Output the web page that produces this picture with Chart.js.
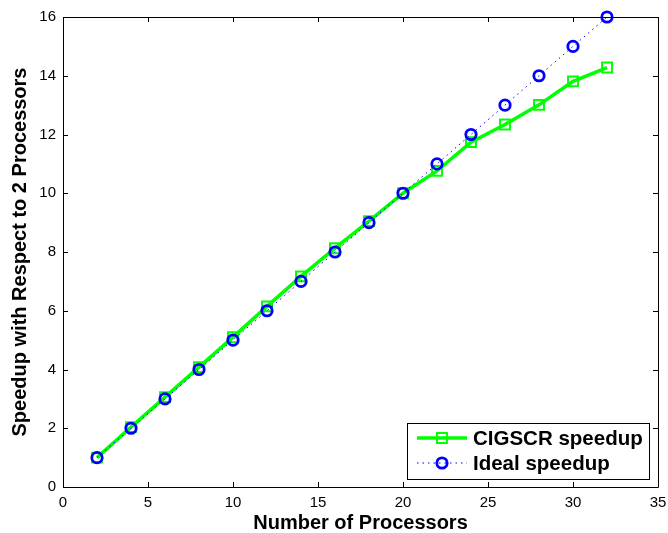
<!DOCTYPE html>
<html>
<head>
<meta charset="utf-8">
<script src="https://cdn.jsdelivr.net/npm/chart.js@4"></script>
<style>
  html, body { margin: 0; padding: 0; background: #fff; }
  #wrap { width: 668px; height: 533px; }
</style>
</head>
<body>
<div id="wrap"><canvas id="c" width="668" height="533"></canvas></div>
<script>
const processors = [2, 4, 6, 8, 10, 12, 14, 16, 18, 20, 22, 24, 26, 28, 30, 32];
const cigscrSpeedup = [1.0, 2.04, 3.06, 4.08, 5.1, 6.15, 7.17, 8.13, 9.05, 10.0, 10.76, 11.74, 12.34, 13.01, 13.81, 14.28];
const idealSpeedup = [1, 2, 3, 4, 5, 6, 7, 8, 9, 10, 11, 12, 13, 14, 15, 16];
const xTicks = [0, 5, 10, 15, 20, 25, 30, 35];
const yTicks = [0, 2, 4, 6, 8, 10, 12, 14, 16];
const seriesNames = ['CIGSCR speedup', 'Ideal speedup'];

const FONT = '"Liberation Sans", Arial, Helvetica, sans-serif';

const toXY = (ys) => processors.map((x, i) => ({ x: x, y: ys[i] }));

const frame = {
  id: 'frame',
  afterDraw(chart) {
    const { ctx, chartArea: a, scales } = chart;
    ctx.save();
    ctx.strokeStyle = '#000';
    ctx.lineWidth = 1;
    ctx.beginPath();
    ctx.rect(Math.round(a.left) + 0.5, Math.round(a.top) + 0.5, Math.round(a.right - a.left), Math.round(a.bottom - a.top));
    ctx.stroke();
    const tl = 5;
    ctx.beginPath();
    xTicks.forEach(v => {
      const px = Math.round(scales.x.getPixelForValue(v)) + 0.5;
      ctx.moveTo(px, a.bottom); ctx.lineTo(px, a.bottom - tl);
      ctx.moveTo(px, a.top); ctx.lineTo(px, a.top + tl);
    });
    yTicks.forEach(v => {
      const py = Math.round(scales.y.getPixelForValue(v)) + 0.5;
      ctx.moveTo(a.left, py); ctx.lineTo(a.left + tl, py);
      ctx.moveTo(a.right, py); ctx.lineTo(a.right - tl, py);
    });
    ctx.stroke();

    // legend
    const lx = 407, ly = 423, lw = 242, lh = 56;
    ctx.fillStyle = '#fff';
    ctx.fillRect(lx, ly, lw, lh);
    ctx.strokeStyle = '#000';
    ctx.lineWidth = 1;
    ctx.strokeRect(lx + 0.5, ly + 0.5, lw, lh);
    const rows = [438, 463];
    const ds = chart.data.datasets;
    ds.forEach((d, i) => {
      const y = rows[i];
      ctx.save();
      ctx.strokeStyle = d.borderColor;
      ctx.lineWidth = d.borderWidth;
      ctx.setLineDash(d.borderDash || []);
      ctx.beginPath();
      ctx.moveTo(417, y); ctx.lineTo(467, y);
      ctx.stroke();
      ctx.restore();
      ctx.save();
      ctx.strokeStyle = d.borderColor;
      ctx.lineWidth = d.pointBorderWidth;
      ctx.beginPath();
      if (d.pointStyle === 'rect') {
        const s = d.pointRadius * Math.SQRT1_2;
        ctx.rect(442 - s, y - s, 2 * s, 2 * s);
      } else {
        ctx.arc(442, y, d.pointRadius, 0, Math.PI * 2);
      }
      ctx.stroke();
      ctx.restore();
      ctx.fillStyle = '#000';
      ctx.font = 'bold 20.5px ' + FONT;
      ctx.textBaseline = 'middle';
      ctx.textAlign = 'left';
      ctx.fillText(seriesNames[i], 473, y + 1);
    });
    ctx.restore();
  }
};

new Chart(document.getElementById('c'), {
  type: 'scatter',
  data: {
    datasets: [
      {
        label: seriesNames[0],
        data: toXY(cigscrSpeedup),
        showLine: true,
        borderColor: '#00ff00',
        backgroundColor: 'rgba(0,0,0,0)',
        borderWidth: 3.5,
        pointStyle: 'rect',
        pointRadius: 7,
        pointBorderWidth: 2,
        pointBorderColor: '#00ff00',
        pointBackgroundColor: 'rgba(0,0,0,0)',
        clip: false,
        order: 2
      },
      {
        label: seriesNames[1],
        data: toXY(idealSpeedup),
        showLine: true,
        borderColor: '#0000ff',
        backgroundColor: 'rgba(0,0,0,0)',
        borderWidth: 1,
        borderDash: [1.5, 4],
        pointStyle: 'circle',
        pointRadius: 5.2,
        pointBorderWidth: 2.8,
        pointBorderColor: '#0000ff',
        pointBackgroundColor: 'rgba(0,0,0,0)',
        clip: false,
        order: 1
      }
    ]
  },
  options: {
    responsive: false,
    animation: false,
    devicePixelRatio: 1,
    layout: { padding: { top: 17, right: 10, left: 0, bottom: 0 } },
    plugins: { legend: { display: false }, tooltip: { enabled: false } },
    scales: {
      x: {
        type: 'linear',
        min: 0, max: 35,
        afterBuildTicks: (s) => { s.ticks = xTicks.map(v => ({ value: v })); },
        afterFit: (s) => { s.height = 46; s.paddingLeft = 0; s.paddingRight = 0; },
        grid: { display: false, drawTicks: false },
        border: { display: false },
        ticks: { color: '#000', font: { family: FONT, size: 15 }, padding: 7, maxRotation: 0 },
        title: {
          display: true, text: 'Number of Processors', color: '#000',
          font: { family: FONT, size: 20, weight: 'bold', lineHeight: 1 },
          padding: { top: 0, bottom: 0 }
        }
      },
      y: {
        min: 0, max: 16,
        afterBuildTicks: (s) => { s.ticks = yTicks.map(v => ({ value: v })); },
        afterFit: (s) => { s.width = 63; s.paddingTop = 0; s.paddingBottom = 0; },
        grid: { display: false, drawTicks: false },
        border: { display: false },
        ticks: { color: '#000', font: { family: FONT, size: 15 }, padding: 7 },
        title: {
          display: true, text: 'Speedup with Respect to 2 Processors', color: '#000',
          font: { family: FONT, size: 20, weight: 'bold', lineHeight: 1.2 },
          padding: { top: 8, bottom: 0 }
        }
      }
    }
  },
  plugins: [frame]
});
</script>
</body>
</html>
